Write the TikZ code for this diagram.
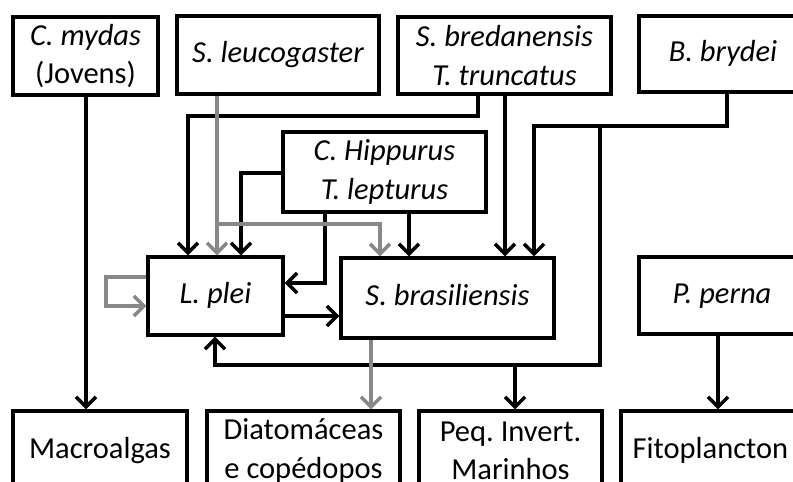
\documentclass[tikz,border=0pt]{standalone}
\usepackage{fontspec}
\setmainfont{Carlito}
\usetikzlibrary{arrows.meta}
\definecolor{lgray}{RGB}{136,136,136}
\frenchspacing
\begin{document}
\begin{tikzpicture}[x=1pt,y=-1pt,
  box/.style={draw=black,line width=3.4pt,inner sep=0pt,align=center,
    font=\fontsize{30.5}{38.5}\selectfont},
  arr/.style={draw=black,line width=3.4pt,line join=miter,
    -{Straight Barb[length=10pt,width=20pt]}},
  garr/.style={arr,draw=lgray}]
\useasboundingbox (0,0) rectangle (793,482);
% top row
\node[box,minimum width=145pt,minimum height=78pt] (mydas) at (85.5,56) {\itshape C. mydas\\(Jovens)};
\node[box,minimum width=202pt,minimum height=78pt] (sleu) at (278,55) {\itshape S. leucogaster\strut};
\node[box,minimum width=213pt,minimum height=77pt] (sbre) at (504.5,55.5) {\itshape S. bredanensis\\\itshape T. truncatus};
\node[box,minimum width=168pt,minimum height=76pt] (bryd) at (723,54) {\itshape B. brydei\strut};
\node[box,minimum width=203pt,minimum height=80pt] (chip) at (384.5,172) {\itshape C. Hippurus\\\itshape T. lepturus};
% middle row
\node[box,minimum width=135pt,minimum height=78pt] (lplei) at (215.5,296) {\itshape L. plei\strut};
\node[box,minimum width=213pt,minimum height=80pt] (sbras) at (447.5,298) {\itshape S. brasiliensis\strut};
\node[box,minimum width=166pt,minimum height=77pt] (pperna) at (722,295.5) {\itshape P. perna\strut};
% bottom row
\node[box,minimum width=174pt,minimum height=80pt] (macro) at (100,451) {Macroalgas\strut};
\node[box,minimum width=193pt,minimum height=80pt] (diat) at (303.5,451) {Diatomáceas\\e copédopos};
\node[box,minimum width=183pt,minimum height=80pt] (peq) at (510.5,451) {Peq. Invert.\\Marinhos};
\node[box,minimum width=179pt,minimum height=80pt] (fito) at (710.5,451) {Fitoplancton\strut};
% helper coordinates
\coordinate (a1) at (86,0);
\coordinate (g1) at (217,224);
\coordinate (g2) at (380,224);
\coordinate (b1) at (478,116);
\coordinate (b2) at (188,116);
\coordinate (b3) at (505,0);
\coordinate (c1) at (727,126);
\coordinate (c2) at (534,126);
\coordinate (c3) at (600,126);
\coordinate (c4) at (600,365);
\coordinate (c5) at (215,365);
\coordinate (c6) at (515,365);
\coordinate (d1) at (241,173);
\coordinate (d2) at (325,283);
\coordinate (d3) at (409,0);
\coordinate (e1) at (106,277);
\coordinate (e2) at (106,306);
\coordinate (f1) at (0,316);
\coordinate (h1) at (371,0);
\coordinate (p1) at (718,0);
% connectors
\draw[arr] (a1 |- mydas.south) -- (a1 |- macro.north);
\draw[arr] (b1 |- sbre.south) -- (b1) -- (b2) -- (b2 |- lplei.north);
\draw[arr] (b3 |- sbre.south) -- (b3 |- sbras.north);
\draw[arr] (c1 |- bryd.south) -- (c1) -- (c2) -- (c2 |- sbras.north);
\draw[arr] (c3) -- (c4) -- (c5) -- (c5 |- lplei.south);
\draw[arr] (c6) -- (c6 |- peq.north);
\draw[arr] (chip.west |- d1) -- (d1) -- (d1 |- lplei.north);
\draw[arr] (d2 |- chip.south) -- (d2) -- (d2 -| lplei.east);
\draw[arr] (d3 |- chip.south) -- (d3 |- sbras.north);
\draw[arr] (f1 -| lplei.east) -- (f1 -| sbras.west);
\draw[arr] (p1 |- pperna.south) -- (p1 |- fito.north);
\draw[garr] (g1 |- sleu.south) -- (g1 |- lplei.north);
\draw[garr] (g1) -- (g2) -- (g2 |- sbras.north);
\draw[garr] (e1 -| lplei.west) -- (e1) -- (e2) -- (e2 -| lplei.west);
\draw[garr] (h1 |- sbras.south) -- (h1 |- diat.north);
\end{tikzpicture}
\end{document}
